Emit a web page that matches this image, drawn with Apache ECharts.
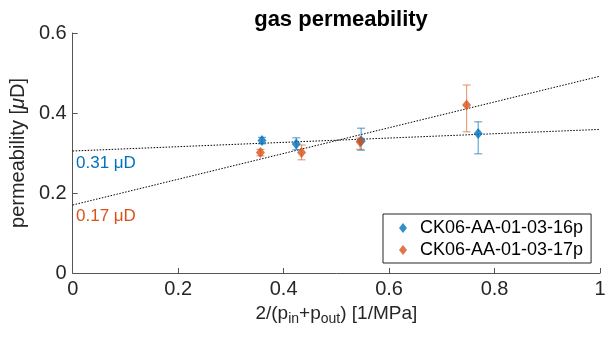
<!DOCTYPE html>
<html>
<head>
<meta charset="utf-8">
<script src="https://cdn.jsdelivr.net/npm/echarts@6/dist/echarts.min.js"></script>
<style>html,body{margin:0;padding:0;background:#fff}#c{width:614px;height:337px}</style>
</head>
<body>
<div id="c"></div>
<script>
var seriesNames = ['CK06-AA-01-03-16p', 'CK06-AA-01-03-17p'];
var xBlue = [0.359, 0.424, 0.547, 0.769];
var yBlue = [0.331, 0.3225, 0.330, 0.349];
var lowBlue = [0.323, 0.308, 0.307, 0.298];
var highBlue = [0.339, 0.338, 0.362, 0.378];
var xOrange = [0.356, 0.434, 0.545, 0.747];
var yOrange = [0.301, 0.301, 0.328, 0.420];
var lowOrange = [0.293, 0.283, 0.309, 0.353];
var highOrange = [0.309, 0.320, 0.337, 0.470];
var fitX = [0, 1];
var fitBlue = [0.305, 0.359];
var fitOrange = [0.170, 0.492];
var interceptLabels = ['0.31 μD', '0.17 μD'];
var xTicks = [0, 0.2, 0.4, 0.6, 0.8, 1];
var yTicks = [0, 0.2, 0.4, 0.6];

var BLUE = '#0072BD', ORANGE = '#D95319';
var FONT = '"Liberation Sans", Arial, sans-serif';

function pts(xs, ys) { return xs.map(function (x, i) { return [x, ys[i]]; }); }
function errData(xs, lo, hi) { return xs.map(function (x, i) { return [x, lo[i], hi[i]]; }); }
function errSeries(data, color) {
  return {
    type: 'custom', silent: true, z: 2,
    renderItem: function (params, api) {
      var x = api.value(0);
      var lo = api.coord([x, api.value(1)]);
      var hi = api.coord([x, api.value(2)]);
      var w = 4;
      var st = { stroke: color, lineWidth: 1.2 };
      return { type: 'group', children: [
        { type: 'line', shape: { x1: lo[0], y1: lo[1], x2: hi[0], y2: hi[1] }, style: st },
        { type: 'line', shape: { x1: lo[0] - w, y1: lo[1], x2: lo[0] + w, y2: lo[1] }, style: st },
        { type: 'line', shape: { x1: hi[0] - w, y1: hi[1], x2: hi[0] + w, y2: hi[1] }, style: st }
      ]};
    },
    data: data
  };
}

var chart = echarts.init(document.getElementById('c'));
chart.setOption({
  animation: false,
  backgroundColor: '#ffffff',
  title: { text: 'gas permeability', left: 336, textAlign: 'center', top: 4,
    textStyle: { fontFamily: FONT, fontSize: 22, fontWeight: 'bold', color: '#000' } },
  grid: { left: 72, right: 14, top: 33, bottom: 64 },
  legend: {
    data: seriesNames, orient: 'vertical', left: 383, top: 214,
    icon: 'diamond', itemWidth: 8, itemHeight: 10, itemGap: 4,
    padding: [5, 8, 4, 16], backgroundColor: '#fff',
    borderColor: '#262626', borderWidth: 1, borderRadius: 0,
    textStyle: { fontFamily: FONT, fontSize: 18, color: '#000', padding: [0, 0, 0, 8] }
  },
  xAxis: {
    type: 'value', min: 0, max: 1, interval: 0.2,
    name: '2/(p{sub|in}+p{sub|out}) [1/MPa]', nameLocation: 'middle', nameGap: 27,
    nameTextStyle: { fontFamily: FONT, fontSize: 19, color: '#262626',
      rich: { sub: { fontFamily: FONT, fontSize: 14, color: '#262626', verticalAlign: 'bottom', padding: [12, 0, 0, 0] } } },
    axisLine: { lineStyle: { color: '#555', width: 1 } },
    axisTick: { inside: true, length: 5, lineStyle: { color: '#555' } },
    axisLabel: { fontFamily: FONT, fontSize: 20, color: '#262626', margin: 6 },
    splitLine: { show: false }
  },
  yAxis: {
    type: 'value', min: 0, max: 0.6, interval: 0.2,
    name: 'permeability [{mu|μ}D]', nameLocation: 'middle', nameGap: 30,
    nameTextStyle: { fontFamily: FONT, fontSize: 20, color: '#262626',
      rich: { mu: { fontFamily: FONT, fontSize: 20, fontStyle: 'italic', color: '#262626' } } },
    axisLine: { show: true, lineStyle: { color: '#555', width: 1 } },
    axisTick: { show: true, inside: true, length: 5, lineStyle: { color: '#555' } },
    axisLabel: { fontFamily: FONT, fontSize: 20, color: '#262626', margin: 6 },
    splitLine: { show: false }
  },
  series: [
    { type: 'line', data: pts(fitX, fitBlue), symbol: 'none', silent: true, z: 1,
      lineStyle: { color: '#000', width: 1, type: [1.5, 1.5] } },
    { type: 'line', data: pts(fitX, fitOrange), symbol: 'none', silent: true, z: 1,
      lineStyle: { color: '#000', width: 1, type: [1.5, 1.5] } },
    errSeries(errData(xBlue, lowBlue, highBlue), 'rgba(0,114,189,0.6)'),
    errSeries(errData(xOrange, lowOrange, highOrange), 'rgba(217,83,25,0.55)'),
    { name: seriesNames[0], type: 'scatter', data: pts(xBlue, yBlue), symbol: 'diamond',
      symbolSize: [9, 11], itemStyle: { color: BLUE }, z: 3 },
    { name: seriesNames[1], type: 'scatter', data: pts(xOrange, yOrange), symbol: 'diamond',
      symbolSize: [9, 11], itemStyle: { color: ORANGE }, z: 3 }
  ],
  graphic: [
    { type: 'text', left: 76, top: 155, style: { text: interceptLabels[0], fill: BLUE, font: '17px ' + FONT } },
    { type: 'text', left: 76, top: 208, style: { text: interceptLabels[1], fill: ORANGE, font: '17px ' + FONT } }
  ]
});
</script>
</body>
</html>
